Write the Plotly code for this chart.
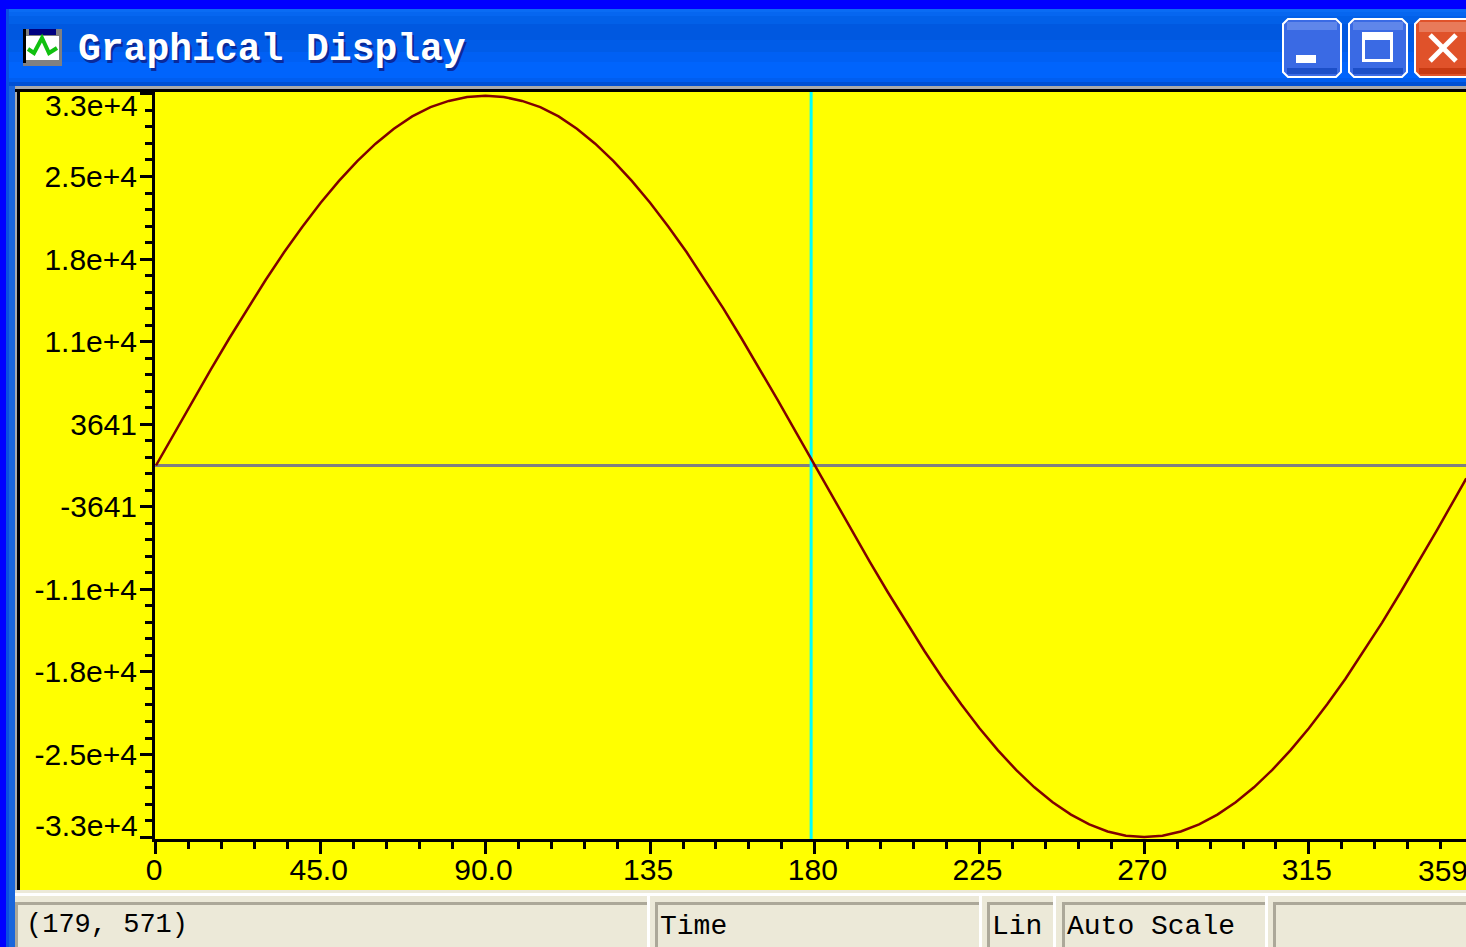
import plotly.graph_objects as go

# ---- data ----
curve_deg = list(range(0, 360, 5)) + [358]
curve_val = [0, 2850, 5690, 8480, 11200, 13850, 16380, 18800, 21060, 23170, 25100, 26840,
             28380, 29700, 30790, 31600, 32150, 32500, 32600, 32500, 32150, 31600, 30790, 29700,
             28380, 26840, 25100, 23170, 21060, 18800, 16380, 13850, 11200, 8480, 5690, 2850,
             0, -2850, -5690, -8480, -11200, -13850, -16380, -18800, -21060, -23170, -25100, -26840,
             -28380, -29700, -30790, -31650, -32270, -32640, -32767, -32640, -32270, -31650, -30790, -29700,
             -28380, -26840, -25100, -23170, -21060, -18800, -16380, -13850, -11200, -8480, -5690, -2850,
             -1140]
cursor_x = 179
cursor_y = 0
x_major = [0, 45, 90, 135, 180, 225, 270, 315]
x_labels = ["0", "45.0", "90.0", "135", "180", "225", "270", "315"]
x_minor = [9, 18, 27, 36, 54, 63, 72, 81, 99, 108, 117, 126, 144, 153, 162, 171,
           189, 198, 207, 216, 234, 243, 252, 261, 279, 288, 297, 306, 324, 333, 342, 351]
y_major = [32768, 25486, 18204, 10923, 3641, -3641, -10923, -18204, -25486, -32768]
y_labels = ["", "2.5e+4", "1.8e+4", "1.1e+4", "3641", "-3641", "-1.1e+4", "-1.8e+4", "-2.5e+4", ""]
y_minor = [31312, 29856, 28399, 26942, 24030, 22573, 21117, 19660, 16748, 15292, 13835, 12379,
           9467, 8010, 6554, 5097, 2185, 728, -728, -2185, -5097, -6554, -8010, -9467,
           -12379, -13835, -15292, -16748, -19660, -21117, -22573, -24030,
           -26942, -28399, -29856, -31312]
title_text = "Graphical Display"
status_texts = ["(179, 571)", "Time", "Lin", "Auto Scale"]

# ---- layout constants (pixels) ----
W, H = 1466, 947
L, R, T, B = 155, 1466, 92, 839
X_SCALE, Y_SCALE, Y_ZERO = 3.66, 0.01134, 465.5


def px(x):
    return (x - L) / (R - L)


def py(y):
    return (B - y) / (B - T)


shapes = []


def rect(x0, y0, x1, y1, color):
    shapes.append(dict(type="rect", xref="paper", yref="paper", x0=px(x0), x1=px(x1), y0=py(y0), y1=py(y1),
                       fillcolor=color, line=dict(width=0), layer="above"))


def frame(x0, y0, x1, y1, fill, line="#ffffff", w=2):
    r = 5
    path = (f"M {px(x0 + r)} {py(y0)} L {px(x1 - r)} {py(y0)} L {px(x1)} {py(y0 + r)} L {px(x1)} {py(y1 - r)} "
            f"L {px(x1 - r)} {py(y1)} L {px(x0 + r)} {py(y1)} L {px(x0)} {py(y1 - r)} L {px(x0)} {py(y0 + r)} Z")
    shapes.append(dict(type="path", xref="paper", yref="paper", path=path, fillcolor=fill,
                       line=dict(width=w, color=line), layer="above"))


def seg(x0, y0, x1, y1, color, w):
    shapes.append(dict(type="line", xref="paper", yref="paper", x0=px(x0), x1=px(x1), y0=py(y0), y1=py(y1),
                       line=dict(color=color, width=w), layer="above"))


# title bar gradient bands
bands = [(9, 12, "#0a6cf4"), (12, 16, "#0666f0"), (16, 24, "#0260e8"), (24, 40, "#0058e0"),
         (40, 52, "#005ce8"), (52, 62, "#0060f4"), (62, 78, "#0064fc"), (78, 82, "#005ef0"), (82, 86, "#0050d4")]
for y0, y1, c in bands:
    rect(0, y0, W, y1, c)
rect(0, 0, W, 9, "#0000ff")
rect(0, 0, 6, H, "#0000ff")
rect(6, 9, 9, H, "#0a50e0")
rect(9, 86, 15, H, "#1a66dc")
rect(15, 86, W, 89, "#aaaaaa")
rect(15, 86, 17, 890, "#aaaaaa")
rect(15, 89, W, 92, "#000000")
rect(17, 89, 20, 890, "#000000")

# status bar
rect(15, 890, W, H, "#ece9d8")
rect(15, 893, W, 896, "#ffffff")
panels = [(15, 647), (655, 979), (987, 1053), (1062, 1265), (1273, W)]
for x0, x1 in panels:
    rect(x0, 902, x1, 905, "#aca899")
    rect(x0, 902, x0 + 3, H, "#aca899")
    if x1 < W:
        rect(x1, 896, x1 + 3, H, "#ffffff")

# window buttons
frame(1283, 19, 1341, 77, "#3a6ae4")
rect(1287, 22, 1337, 30, "#5f86ea")
rect(1287, 68, 1337, 74, "#1c4fc8")
rect(1296, 55, 1316, 63, "#ffffff")
frame(1349, 19, 1407, 77, "#3a6ae4")
rect(1353, 22, 1403, 30, "#5f86ea")
rect(1353, 68, 1403, 74, "#1c4fc8")
rect(1362, 32, 1393, 40, "#ffffff")
rect(1362, 40, 1365, 62, "#ffffff")
rect(1390, 40, 1393, 62, "#ffffff")
rect(1362, 59, 1393, 62, "#ffffff")
frame(1415, 19, 1472, 77, "#e0522a")
rect(1419, 22, 1466, 32, "#e87a5a")
rect(1419, 68, 1466, 74, "#c83a12")
seg(1430, 35, 1456, 61, "#ffffff", 5)
seg(1456, 35, 1430, 61, "#ffffff", 5)

# window icon
rect(23, 29, 62, 66, "#808080")
rect(26, 36, 59, 60, "#ffffff")
rect(23, 29, 26, 63, "#000000")
rect(29, 29, 56, 35, "#000080")
shapes.append(dict(type="path", xref="paper", yref="paper",
                   path=f"M {px(28)} {py(49)} L {px(34)} {py(53)} L {px(42)} {py(38)} L {px(49)} {py(53)} L {px(57)} {py(48)}",
                   line=dict(color="#10c010", width=4), layer="above"))

annotations = []


def label(text, x, y, size, color="#000000", family="Liberation Mono", anchor="left", bold=False):
    annotations.append(dict(text=f"<b>{text}</b>" if bold else text, x=px(x), y=py(y), xref="paper", yref="paper",
                            xanchor=anchor, yanchor="middle", showarrow=False,
                            font=dict(family=family, size=size, color=color)))


# title text with drop shadow
label(title_text, 78, 52, 38, "#0a2a9a", bold=True)
label(title_text, 76, 50, 38, "#ffffff", bold=True)

# status texts
label(status_texts[0], 24, 925, 27)
label(status_texts[1], 658, 926, 28)
label(status_texts[2], 990, 926, 28)
label(status_texts[3], 1065, 926, 28)

# shifted end labels of the axes
label("3.3e+4", 140, 105, 30, family="Liberation Sans", anchor="right")
label("-3.3e+4", 140, 825, 30, family="Liberation Sans", anchor="right")
label("359", 1416, 870, 30, family="Liberation Sans")

fig = go.Figure()
x_end = (R - L) / X_SCALE - 0.27
fig.add_trace(go.Scatter(x=[-0.27, x_end], y=[cursor_y, cursor_y], mode="lines", line=dict(color="#808080", width=3),
                         hoverinfo="skip", showlegend=False))
y_top = (Y_ZERO - T) / Y_SCALE
y_bot = (Y_ZERO - B) / Y_SCALE
fig.add_trace(go.Scatter(x=[cursor_x, cursor_x], y=[y_bot, y_top], mode="lines", line=dict(color="#00ffff", width=3),
                         hoverinfo="skip", showlegend=False))
fig.add_trace(go.Scatter(x=curve_deg, y=curve_val, mode="lines", line=dict(color="#800000", width=2.5),
                         showlegend=False, cliponaxis=False))

tick_font = dict(family="Liberation Sans", size=30, color="#000000")
fig.update_layout(
    width=W, height=H, autosize=False,
    margin=dict(l=L, r=W - R, t=T, b=H - B, pad=0),
    paper_bgcolor="#ffff00", plot_bgcolor="#ffff00",
    shapes=shapes, annotations=annotations, showlegend=False,
    xaxis=dict(range=[-0.27, x_end], tickmode="array", tickvals=x_major, ticktext=x_labels,
               ticks="outside", ticklen=12, tickwidth=3, tickcolor="#000000", tickfont=tick_font,
               ticklabelstandoff=-10, ticklabelshift=-2,
               showgrid=False, zeroline=False, showline=True, linecolor="#000000", linewidth=3,
               minor=dict(tickmode="array", tickvals=x_minor, ticks="outside", ticklen=7, tickwidth=3,
                          tickcolor="#000000", showgrid=False)),
    yaxis=dict(range=[y_bot, y_top], tickmode="array", tickvals=y_major, ticktext=y_labels,
               ticks="outside", ticklen=12, tickwidth=3, tickcolor="#000000", tickfont=tick_font,
               ticklabelstandoff=-3,
               showgrid=False, zeroline=False, showline=True, linecolor="#000000", linewidth=3,
               minor=dict(tickmode="array", tickvals=y_minor, ticks="outside", ticklen=7, tickwidth=3,
                          tickcolor="#000000", showgrid=False)),
)

fig.write_html("out.html", config={"displayModeBar": False},
               post_script="document.body.style.margin='0';document.body.style.overflow='hidden';")
